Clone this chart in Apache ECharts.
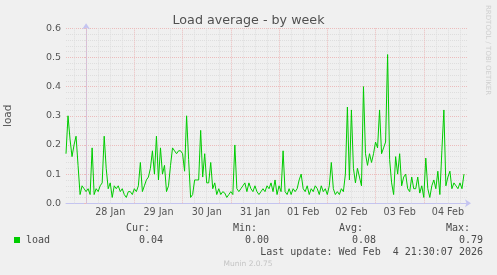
<!DOCTYPE html>
<html><head><meta charset="utf-8">
<script src="https://cdn.jsdelivr.net/npm/echarts@6/dist/echarts.min.js"></script>
<style>html,body{margin:0;padding:0;background:#f0f0f0}#c{width:497px;height:275px}</style>
</head><body><div id="c"></div>
<script>
// hours are counted from 28 Jan 00:00; first sample at 27 Jan 14:00, one sample per hour
const startHour = -10;
const axisMinHour = -10;
const axisMaxHour = 190;
const dayLabels = ['28 Jan','29 Jan','30 Jan','31 Jan','01 Feb','02 Feb','03 Feb','04 Feb'];
const yTickValues = [0, 0.1, 0.2, 0.3, 0.4, 0.5, 0.6];

const loadJan27 = [0.17, 0.30, 0.22, 0.16, 0.20, 0.23, 0.13, 0.03, 0.06, 0.05];
const loadJan28 = [0.04, 0.05, 0.03, 0.19, 0.03, 0.05, 0.04, 0.06, 0.07, 0.23, 0.12, 0.05, 0.07, 0.02, 0.06, 0.05, 0.06, 0.04, 0.05, 0.03, 0.02, 0.04, 0.04, 0.03];
const loadJan29 = [0.05, 0.04, 0.06, 0.14, 0.04, 0.06, 0.08, 0.09, 0.12, 0.18, 0.10, 0.23, 0.08, 0.19, 0.10, 0.13, 0.04, 0.06, 0.13, 0.19, 0.18, 0.17, 0.18, 0.18];
const loadJan30 = [0.17, 0.11, 0.30, 0.15, 0.02, 0.03, 0.08, 0.08, 0.08, 0.25, 0.09, 0.17, 0.07, 0.07, 0.14, 0.05, 0.07, 0.03, 0.05, 0.03, 0.04, 0.035, 0.02, 0.03];
const loadJan31 = [0.04, 0.03, 0.20, 0.05, 0.04, 0.05, 0.06, 0.07, 0.04, 0.07, 0.05, 0.04, 0.06, 0.04, 0.03, 0.04, 0.05, 0.04, 0.06, 0.05, 0.07, 0.04, 0.08, 0.03];
const loadFeb01 = [0.06, 0.04, 0.18, 0.04, 0.03, 0.05, 0.03, 0.05, 0.04, 0.05, 0.08, 0.10, 0.05, 0.04, 0.06, 0.03, 0.05, 0.04, 0.06, 0.05, 0.03, 0.06, 0.04, 0.05];
const loadFeb02 = [0.03, 0.06, 0.14, 0.05, 0.03, 0.04, 0.03, 0.05, 0.04, 0.10, 0.33, 0.08, 0.32, 0.12, 0.07, 0.12, 0.09, 0.06, 0.40, 0.17, 0.13, 0.17, 0.14, 0.17];
const loadFeb03 = [0.21, 0.19, 0.32, 0.17, 0.19, 0.21, 0.51, 0.15, 0.07, 0.03, 0.16, 0.10, 0.17, 0.06, 0.09, 0.10, 0.05, 0.04, 0.09, 0.05, 0.05, 0.09, 0.035, 0.06];
const loadFeb04 = [0.02, 0.155, 0.05, 0.02, 0.06, 0.08, 0.05, 0.11, 0.03, 0.18, 0.32, 0.06, 0.09, 0.11, 0.05, 0.07, 0.06, 0.05, 0.07, 0.05, 0.10];

const seriesName = 'load';
const statNames = ['Cur:', 'Min:', 'Avg:', 'Max:'];
const statValues = ['0.04', '0.00', '0.08', '0.79'];
const lastUpdate = 'Last update: Wed Feb  4 21:30:07 2026';
const titleText = 'Load average - by week';
const footerText = 'Munin 2.0.75';
const sideText = 'RRDTOOL / TOBI OETIKER';

const loadValues = [].concat(loadJan27, loadJan28, loadJan29, loadJan30, loadJan31, loadFeb01, loadFeb02, loadFeb03, loadFeb04);
const loadData = loadValues.map((v, i) => [startHour + i, v]);

const RED = '#ecbcbc', GRAY = '#dedede', AXIS = '#c4c4f0';
const gridMarks = [];
for (let h = -6; h < axisMaxHour; h += 6) {
  const major = (h % 24 === 0);
  gridMarks.push({ xAxis: h, lineStyle: { color: major ? RED : GRAY, type: [1, 1], width: 1 } });
}

const mono = 'DejaVu Sans Mono';
const sans = 'DejaVu Sans';
const txtColor = '#4a4a4a';
const statHeadX = [150, 257, 363, 470];
const statValX = [163, 269, 376, 483];
const graphics = [
  { type: 'rect', shape: { x: 14, y: 237, width: 6, height: 6 }, style: { fill: '#00cc00' } },
  { type: 'text', x: 26, y: 240, style: { text: seriesName, font: '10px ' + mono, fill: txtColor, verticalAlign: 'middle', align: 'left' } },
  { type: 'text', x: 483, y: 252, style: { text: lastUpdate, font: '10px ' + mono, fill: txtColor, verticalAlign: 'middle', align: 'right' } },
  { type: 'text', x: 248, y: 264, style: { text: footerText, font: '7.5px ' + sans, fill: '#c4c4c4', verticalAlign: 'middle', align: 'center' } },
  { type: 'text', x: 488, y: 5, rotation: -Math.PI / 2, style: { text: sideText, font: '7px ' + sans, fill: '#cfcfcf', verticalAlign: 'middle', align: 'left' } }
];
statNames.forEach((n, i) => {
  graphics.push({ type: 'text', x: statHeadX[i], y: 228, style: { text: n, font: '10px ' + mono, fill: txtColor, verticalAlign: 'middle', align: 'right' } });
  graphics.push({ type: 'text', x: statValX[i], y: 240, style: { text: statValues[i], font: '10px ' + mono, fill: txtColor, verticalAlign: 'middle', align: 'right' } });
});

const chart = echarts.init(document.getElementById('c'), null, { renderer: 'canvas' });
chart.setOption({
  backgroundColor: '#f0f0f0',
  animation: false,
  title: {
    text: titleText, left: 'center', top: 9,
    textStyle: { fontFamily: sans, fontSize: 12.7, fontWeight: 'normal', color: '#505050' }
  },
  grid: { left: 66, top: 28.3, width: 402, height: 175, containLabel: false, outerBoundsMode: 'none' },
  xAxis: {
    type: 'value', min: axisMinHour, max: axisMaxHour, interval: 2,
    axisLine: { show: true, onZero: false, lineStyle: { color: AXIS, width: 1 }, symbol: ['none', 'arrow'], symbolSize: [6, 6], symbolOffset: [0, 3] },
    axisTick: { show: false },
    splitLine: { show: false },
    axisLabel: {
      margin: 4, fontFamily: sans, fontSize: 9.6, color: '#555',
      formatter: v => {
        const k = (v - 12) / 24;
        return (Number.isInteger(k) && k >= 0 && k < dayLabels.length) ? dayLabels[k] : '';
      }
    }
  },
  yAxis: {
    type: 'value', min: yTickValues[0], max: yTickValues[yTickValues.length - 1], interval: 0.1,
    name: seriesName, nameLocation: 'middle', nameGap: 52, nameRotate: 90,
    nameTextStyle: { fontFamily: sans, fontSize: 10.5, color: '#555' },
    axisLine: { show: true, lineStyle: { color: AXIS, width: 1 }, symbol: ['none', 'arrow'], symbolSize: [6, 6], symbolOffset: [0, 5] },
    axisTick: { show: true, length: 2, lineStyle: { color: RED } },
    minorTick: { show: true, splitNumber: 5, length: 1, lineStyle: { color: GRAY } },
    axisLabel: { margin: 5, fontFamily: sans, fontSize: 9.5, color: '#555', formatter: v => v.toFixed(1) },
    splitLine: { show: true, lineStyle: { color: RED, type: [1, 1], width: 1 } },
    minorSplitLine: { show: true, lineStyle: { color: GRAY, type: [1, 1], width: 1 } }
  },
  series: [
    {
      type: 'line', data: [], silent: true, z: 1,
      markLine: { silent: true, symbol: 'none', z: 1, animation: false, label: { show: false }, emphasis: { disabled: true }, data: gridMarks }
    },
    {
      name: seriesName, type: 'line', data: loadData, z: 3,
      showSymbol: false, smooth: false, silent: true,
      lineStyle: { color: '#00cc00', width: 1 }
    }
  ],
  graphic: graphics
});
</script>
</body></html>
